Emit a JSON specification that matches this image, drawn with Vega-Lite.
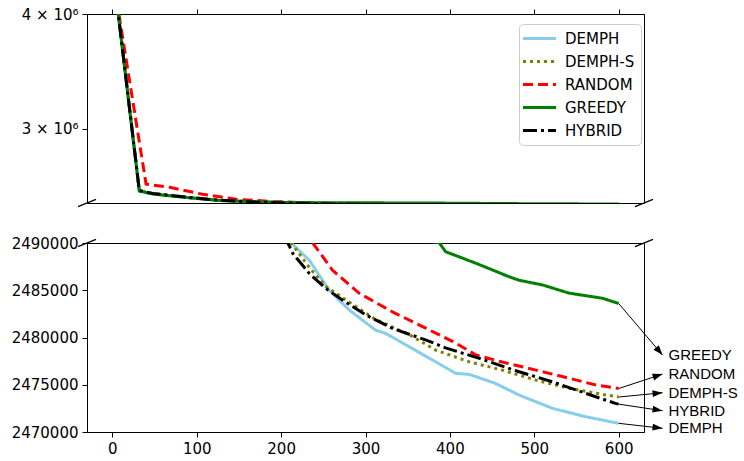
{
  "$schema": "https://vega.github.io/schema/vega-lite/v6.json",
  "padding": {"left": 10, "top": 6, "right": 0, "bottom": 5},
  "background": "white",
  "config": {
    "view": {"stroke": "black", "strokeWidth": 1},
    "axis": {"grid": false, "domainColor": "black", "tickColor": "black", "labelColor": "black", "labelFont": "DejaVu Sans", "labelFontSize": 15, "tickSize": 5, "labelPadding": 4, "title": null},
    "legend": {"labelFont": "DejaVu Sans", "labelFontSize": 15, "labelColor": "black"}
  },
  "datasets": {
    "curves": [
      {"s": "DEMPH", "x": 5, "y": 4150000}, {"s": "DEMPH", "x": 32, "y": 2566000}, {"s": "DEMPH", "x": 48, "y": 2547000}, {"s": "DEMPH", "x": 88, "y": 2524000}, {"s": "DEMPH", "x": 127, "y": 2505000}, {"s": "DEMPH", "x": 170, "y": 2496000}, {"s": "DEMPH", "x": 212, "y": 2490000}, {"s": "DEMPH", "x": 233.5, "y": 2488172}, {"s": "DEMPH", "x": 257, "y": 2485002}, {"s": "DEMPH", "x": 281, "y": 2482889}, {"s": "DEMPH", "x": 312, "y": 2480776}, {"s": "DEMPH", "x": 324, "y": 2480428}, {"s": "DEMPH", "x": 352, "y": 2479012}, {"s": "DEMPH", "x": 383, "y": 2477430}, {"s": "DEMPH", "x": 407, "y": 2476201}, {"s": "DEMPH", "x": 423, "y": 2476096}, {"s": "DEMPH", "x": 454, "y": 2475145}, {"s": "DEMPH", "x": 482, "y": 2473909}, {"s": "DEMPH", "x": 521.5, "y": 2472504}, {"s": "DEMPH", "x": 561, "y": 2471616}, {"s": "DEMPH", "x": 600, "y": 2470919},
      {"s": "DEMPH-S", "x": 5, "y": 4150000}, {"s": "DEMPH-S", "x": 32, "y": 2568000}, {"s": "DEMPH-S", "x": 48, "y": 2549000}, {"s": "DEMPH-S", "x": 88, "y": 2527000}, {"s": "DEMPH-S", "x": 127, "y": 2507000}, {"s": "DEMPH-S", "x": 170, "y": 2497000}, {"s": "DEMPH-S", "x": 212, "y": 2490000}, {"s": "DEMPH-S", "x": 233.5, "y": 2487400}, {"s": "DEMPH-S", "x": 253, "y": 2485400}, {"s": "DEMPH-S", "x": 273, "y": 2484200}, {"s": "DEMPH-S", "x": 312, "y": 2481900}, {"s": "DEMPH-S", "x": 352, "y": 2480300}, {"s": "DEMPH-S", "x": 383, "y": 2478667}, {"s": "DEMPH-S", "x": 423, "y": 2477427}, {"s": "DEMPH-S", "x": 462, "y": 2476550}, {"s": "DEMPH-S", "x": 502, "y": 2475494}, {"s": "DEMPH-S", "x": 541, "y": 2474617}, {"s": "DEMPH-S", "x": 570, "y": 2474150}, {"s": "DEMPH-S", "x": 600, "y": 2473700},
      {"s": "RANDOM", "x": 5, "y": 4150000}, {"s": "RANDOM", "x": 40, "y": 2611000}, {"s": "RANDOM", "x": 68, "y": 2590000}, {"s": "RANDOM", "x": 107, "y": 2544800}, {"s": "RANDOM", "x": 147, "y": 2513200}, {"s": "RANDOM", "x": 190, "y": 2499400}, {"s": "RANDOM", "x": 237.5, "y": 2490000}, {"s": "RANDOM", "x": 261, "y": 2487115}, {"s": "RANDOM", "x": 293, "y": 2484654}, {"s": "RANDOM", "x": 332, "y": 2482710}, {"s": "RANDOM", "x": 372, "y": 2480956}, {"s": "RANDOM", "x": 403, "y": 2479600}, {"s": "RANDOM", "x": 431, "y": 2478150}, {"s": "RANDOM", "x": 462, "y": 2477400}, {"s": "RANDOM", "x": 502, "y": 2476550}, {"s": "RANDOM", "x": 541, "y": 2475700}, {"s": "RANDOM", "x": 573, "y": 2474966}, {"s": "RANDOM", "x": 600, "y": 2474600},
      {"s": "GREEDY", "x": 5, "y": 4150000}, {"s": "GREEDY", "x": 32, "y": 2566000}, {"s": "GREEDY", "x": 48, "y": 2546800}, {"s": "GREEDY", "x": 88, "y": 2524500}, {"s": "GREEDY", "x": 127, "y": 2505600}, {"s": "GREEDY", "x": 170, "y": 2497500}, {"s": "GREEDY", "x": 206, "y": 2493700}, {"s": "GREEDY", "x": 250, "y": 2491900}, {"s": "GREEDY", "x": 300, "y": 2491000}, {"s": "GREEDY", "x": 350, "y": 2490500}, {"s": "GREEDY", "x": 387, "y": 2490050}, {"s": "GREEDY", "x": 395, "y": 2489079}, {"s": "GREEDY", "x": 431, "y": 2487851}, {"s": "GREEDY", "x": 470, "y": 2486434}, {"s": "GREEDY", "x": 482, "y": 2486059}, {"s": "GREEDY", "x": 510, "y": 2485556}, {"s": "GREEDY", "x": 541, "y": 2484700}, {"s": "GREEDY", "x": 581, "y": 2484148}, {"s": "GREEDY", "x": 600, "y": 2483600},
      {"s": "HYBRID", "x": 5, "y": 4150000}, {"s": "HYBRID", "x": 32, "y": 2570000}, {"s": "HYBRID", "x": 48, "y": 2550000}, {"s": "HYBRID", "x": 88, "y": 2527000}, {"s": "HYBRID", "x": 127, "y": 2507000}, {"s": "HYBRID", "x": 170, "y": 2495500}, {"s": "HYBRID", "x": 208, "y": 2490000}, {"s": "HYBRID", "x": 214, "y": 2488880}, {"s": "HYBRID", "x": 233.5, "y": 2486767}, {"s": "HYBRID", "x": 253, "y": 2485182}, {"s": "HYBRID", "x": 273, "y": 2483946}, {"s": "HYBRID", "x": 301, "y": 2482361}, {"s": "HYBRID", "x": 332, "y": 2480956}, {"s": "HYBRID", "x": 372, "y": 2479720}, {"s": "HYBRID", "x": 395, "y": 2478900}, {"s": "HYBRID", "x": 435, "y": 2477786}, {"s": "HYBRID", "x": 482, "y": 2476371}, {"s": "HYBRID", "x": 521.5, "y": 2475314}, {"s": "HYBRID", "x": 561, "y": 2474089}, {"s": "HYBRID", "x": 596, "y": 2473032}, {"s": "HYBRID", "x": 600, "y": 2472950}
    ],
    "breaks": [{"bx": -30}, {"bx": 630}],
    "notes": [
      {"label": "GREEDY", "x0": 600, "y0": 2483600, "x1": 652, "y1": 2478135, "tx": 659},
      {"label": "RANDOM", "x0": 600, "y0": 2474600, "x1": 652, "y1": 2476128, "tx": 659},
      {"label": "DEMPH-S", "x0": 600, "y0": 2473700, "x1": 652, "y1": 2474152, "tx": 659},
      {"label": "HYBRID", "x0": 600, "y0": 2472950, "x1": 652, "y1": 2472250, "tx": 659},
      {"label": "DEMPH", "x0": 600, "y0": 2470919, "x1": 652, "y1": 2470391, "tx": 659}
    ]
  },
  "vconcat": [
    {
      "width": 557,
      "height": 189,
      "layer": [
        {
          "data": {"name": "curves"},
          "mark": {"type": "line", "clip": true, "strokeWidth": 3},
          "encoding": {
            "x": {"field": "x", "type": "quantitative", "scale": {"domain": [-30, 630], "nice": false, "zero": false}, "axis": {"orient": "top", "labels": false, "values": [0, 100, 200, 300, 400, 500, 600]}},
            "y": {"field": "y", "type": "quantitative", "scale": {"type": "log", "domain": [2490000, 4000000], "nice": false, "zero": false}, "axis": {"values": [3000000, 4000000], "labelExpr": "datum.value == 4000000 ? '4 × 10⁶' : '3 × 10⁶'"}},
            "color": {"field": "s", "type": "nominal", "scale": {"domain": ["DEMPH", "DEMPH-S", "RANDOM", "GREEDY", "HYBRID"], "range": ["#87ceeb", "#808000", "#ff0000", "#008000", "#000000"]}, "legend": {"title": null, "orient": "none", "legendX": 432, "legendY": 10, "symbolType": "M-2.5,0L2.5,0", "symbolSize": 174, "symbolOffset": 6, "symbolStrokeWidth": 3, "strokeColor": "#cccccc", "cornerRadius": 4, "padding": 6, "fillColor": "white", "rowPadding": 6, "labelOffset": 17}},
            "strokeDash": {"field": "s", "type": "nominal", "scale": {"domain": ["DEMPH", "DEMPH-S", "RANDOM", "GREEDY", "HYBRID"], "range": [[1, 0], [3, 4], [10, 5], [1, 0], [14, 4, 3, 4]]}, "legend": {"title": null}}
          }
        },
        {
          "data": {"name": "breaks"},
          "mark": {"type": "point", "shape": "M-1,0.4L1,-0.4", "size": 324, "filled": false, "stroke": "black", "strokeWidth": 1.2, "opacity": 1, "clip": false},
          "encoding": {
            "x": {"field": "bx", "type": "quantitative"},
            "y": {"datum": 2490000, "type": "quantitative"}
          }
        }
      ]
    },
    {
      "width": 557,
      "height": 189,
      "layer": [
        {
          "data": {"name": "curves"},
          "mark": {"type": "line", "clip": true, "strokeWidth": 3},
          "encoding": {
            "x": {"field": "x", "type": "quantitative", "scale": {"domain": [-30, 630], "nice": false, "zero": false}, "axis": {"values": [0, 100, 200, 300, 400, 500, 600]}},
            "y": {"field": "y", "type": "quantitative", "scale": {"domain": [2470000, 2490000], "nice": false, "zero": false}, "axis": {"values": [2470000, 2475000, 2480000, 2485000, 2490000], "format": "d"}},
            "color": {"field": "s", "type": "nominal", "legend": null},
            "strokeDash": {"field": "s", "type": "nominal", "legend": null}
          }
        },
        {
          "data": {"name": "breaks"},
          "mark": {"type": "point", "shape": "M-1,0.4L1,-0.4", "size": 324, "filled": false, "stroke": "black", "strokeWidth": 1.2, "opacity": 1, "clip": false},
          "encoding": {
            "x": {"field": "bx", "type": "quantitative"},
            "y": {"datum": 2490000, "type": "quantitative"}
          }
        },
        {
          "data": {"name": "notes"},
          "mark": {"type": "rule", "color": "black", "strokeWidth": 1, "clip": false},
          "encoding": {
            "x": {"field": "x0", "type": "quantitative"},
            "y": {"field": "y0", "type": "quantitative"},
            "x2": {"field": "x1"},
            "y2": {"field": "y1"}
          }
        },
        {
          "data": {"name": "notes"},
          "mark": {"type": "point", "shape": "M0,0L-2,-0.7L-2,0.7Z", "size": 100, "filled": true, "color": "black", "opacity": 1, "clip": false},
          "encoding": {
            "x": {"field": "x1", "type": "quantitative"},
            "y": {"field": "y1", "type": "quantitative"},
            "angle": {"field": "label", "type": "nominal", "scale": {"type": "ordinal", "domain": ["GREEDY", "RANDOM", "DEMPH-S", "HYBRID", "DEMPH"], "range": [50, -17.6, -5, 9.3, 6.9]}, "legend": null}
          }
        },
        {
          "data": {"name": "notes"},
          "mark": {"type": "text", "align": "left", "baseline": "middle", "font": "Liberation Sans", "fontSize": 15, "color": "black", "clip": false},
          "encoding": {
            "x": {"field": "tx", "type": "quantitative"},
            "y": {"field": "y1", "type": "quantitative"},
            "text": {"field": "label", "type": "nominal"}
          }
        }
      ]
    }
  ],
  "spacing": 25,
  "resolve": {"scale": {"x": "independent", "y": "independent"}, "legend": {"color": "independent", "strokeDash": "independent"}}
}
